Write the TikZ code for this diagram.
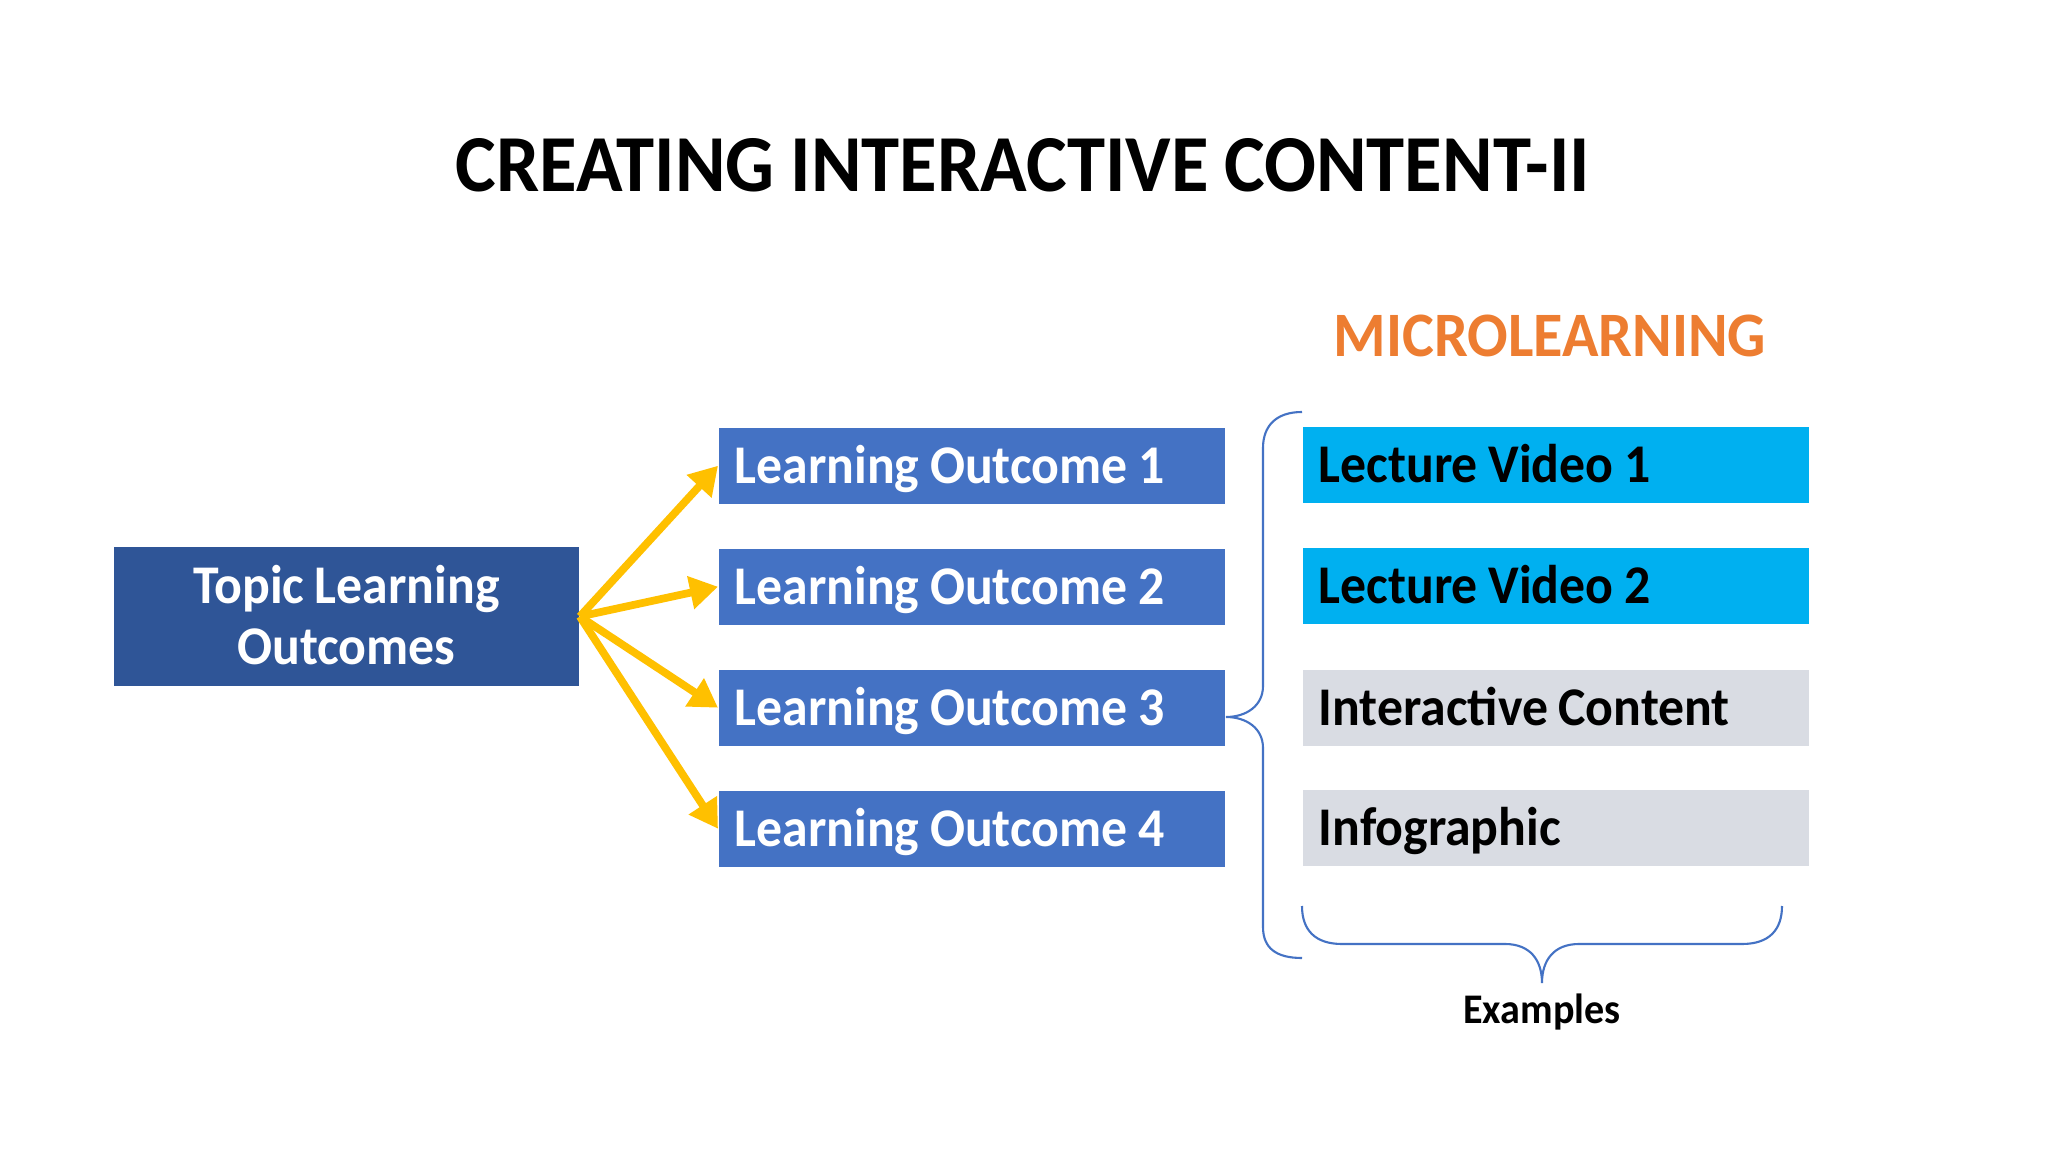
\documentclass[tikz,border=0pt]{standalone}
\usepackage{fontspec}
\setmainfont{Carlito}[FakeStretch=0.95,WordSpace=0.9]
\usetikzlibrary{arrows.meta}

\definecolor{topicblue}{HTML}{2F5597}
\definecolor{outcomeblue}{HTML}{4472C4}
\definecolor{videoblue}{HTML}{00B0F0}
\definecolor{examplegrey}{HTML}{D9DCE3}
\definecolor{arrowyellow}{HTML}{FFC000}
\definecolor{microorange}{HTML}{ED7D31}

\begin{document}
\begin{tikzpicture}[x=0.01cm,y=-0.01cm,
	box/.style={anchor=north west,minimum width=5.06cm,minimum height=0.76cm,inner xsep=0.16cm,inner ysep=0pt,
		text width=4.74cm,align=flush left,text height=3.5mm,text depth=0pt,font=\bfseries\fontsize{15.5}{18}\selectfont},
	outcome/.style={box,fill=outcomeblue,text=white},
	video/.style={box,fill=videoblue,text=black},
	other/.style={box,fill=examplegrey,text=black},
	fanarrow/.style={draw=arrowyellow,line width=2.2pt,-{Triangle[length=2.8mm,width=3.2mm]}},
	brace/.style={draw=outcomeblue,line width=0.6pt}]
	
	\useasboundingbox[fill=white] (0,0) rectangle (2048,1152);
	
	% titles
	\node[anchor=base,font=\bfseries\fontsize{23}{27}\selectfont] (title) at (1023,192) {CREATING INTERACTIVE CONTENT-II};
	\node[anchor=base,text=microorange,font=\bfseries\fontsize{18}{22}\selectfont] (micro) at (1550,357) {MICROLEARNING};
	
	% topic box
	\node[fill=topicblue,text=white,minimum width=4.65cm,minimum height=1.39cm,inner sep=0pt,text width=4.4cm,align=flush center,
		text height=3.5mm,text depth=6mm,font=\bfseries\fontsize{15.5}{17.1}\selectfont] (topic) at (346.5,616.5) {Topic Learning\\Outcomes};
	
	% learning outcomes
	\node[outcome] (lo1) at (718,427) {Learning Outcome 1};
	\node[outcome] (lo2) at (718,548) {Learning Outcome 2};
	\node[outcome] (lo3) at (718,669) {Learning Outcome 3};
	\node[outcome] (lo4) at (718,790) {Learning Outcome 4};
	
	% examples
	\node[video] (lv1) at (1302,426) {Lecture Video 1};
	\node[video] (lv2) at (1302,547) {Lecture Video 2};
	\node[other] (ic)  at (1302,669) {Interactive Content};
	\node[other] (ig)  at (1302,789) {Infographic};
	
	% arrows
	\foreach \lo in {lo1,lo2,lo3,lo4}
		\draw[fanarrow] (topic.east) -- (\lo.west);
	
	% left brace
	\draw[brace] (1302,412) .. controls (1276,412) and (1263,426) .. (1263,448) -- (1263,686)
				 .. controls (1263,706) and (1246,717) .. (1226,717)
				 .. controls (1246,717) and (1263,728) .. (1263,748) -- (1263,927)
				 .. controls (1263,948) and (1276,958) .. (1302,958);
	
	% bottom brace
	\draw[brace] (1302,906) .. controls (1302,930) and (1315,944) .. (1342,944) -- (1505,944)
				 .. controls (1530,944) and (1542,960) .. (1542,983)
				 .. controls (1542,960) and (1554,944) .. (1579,944) -- (1742,944)
				 .. controls (1769,944) and (1782,930) .. (1782,906);
	
	\node[anchor=base,font=\bfseries\fontsize{12}{14}\selectfont] (examples) at (1542,1023) {Examples};
	
\end{tikzpicture}
\end{document}
